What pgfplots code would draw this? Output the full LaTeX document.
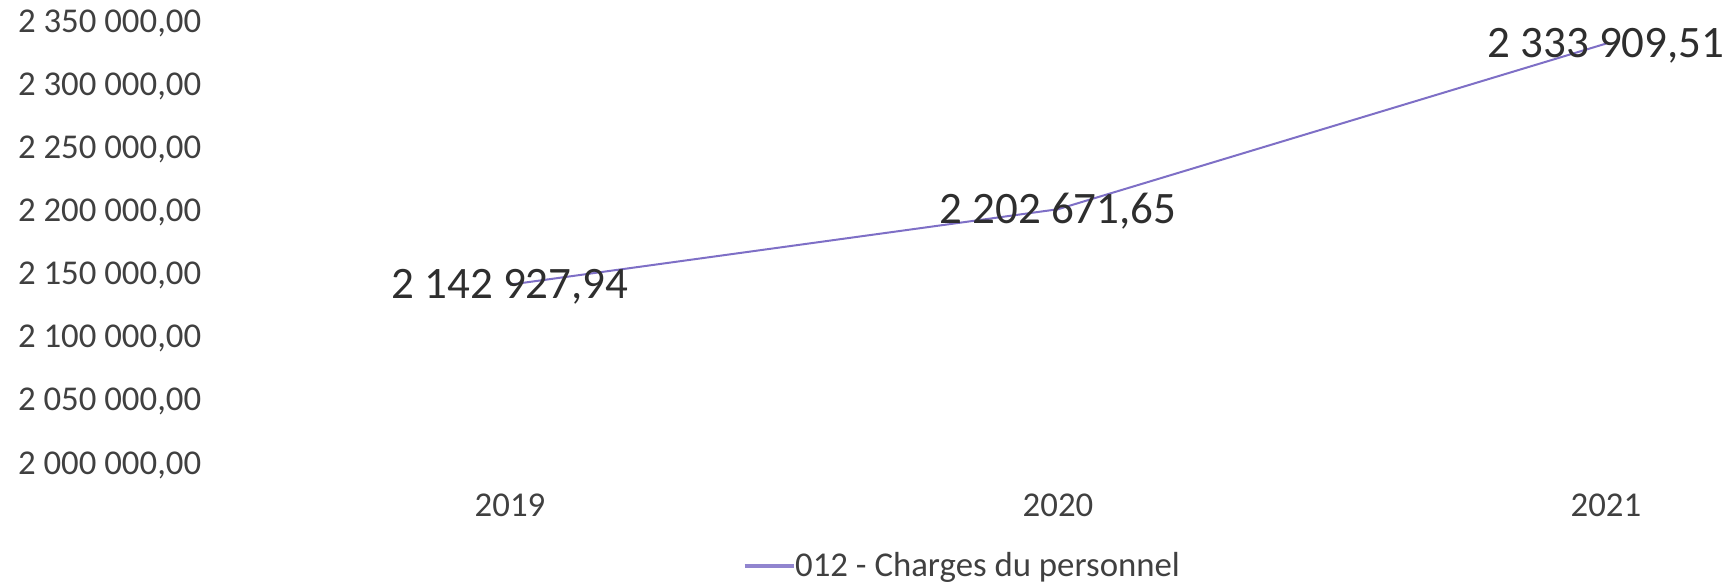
\documentclass[border=0pt]{standalone}
\usepackage{fontspec}
\setmainfont{Carlito}
\usepackage{pgfplots}
\pgfplotsset{compat=1.18}

\definecolor{seriescol}{HTML}{7E6FC6}
\definecolor{labelgray}{HTML}{404040}
\definecolor{valuegray}{HTML}{2E2E2E}

\begin{document}
\begin{tikzpicture}
\begin{axis}[
  at={(0,0)}, anchor=south west,
  scale only axis,
  width=748pt, height=220.85pt,
  xmin=-0.5, xmax=2.23,
  ymin=2000000, ymax=2350000,
  axis line style={draw=none},
  tick style={draw=none},
  major tick length=0pt,
  xtick={0,1,2},
  xticklabels={2019,2020,2021},
  ytick={2000000,2050000,2100000,2150000,2200000,2250000,2300000,2350000},
  yticklabels={{2 000 000,00},{2 050 000,00},{2 100 000,00},{2 150 000,00},
               {2 200 000,00},{2 250 000,00},{2 300 000,00},{2 350 000,00}},
  scaled y ticks=false,
  tick label style={font=\fontsize{17.4}{20}\selectfont, text=labelgray},
  yticklabel style={anchor=east, inner sep=0pt, xshift=-17.2pt},
  xticklabel style={anchor=base, inner sep=0pt, yshift=-25.85pt},
  clip=false,
  legend style={
    draw=none, fill=none, inner sep=0pt, outer sep=0pt,
    at={(0.3389,-0.2287)}, anchor=west,
    font=\fontsize{17.4}{20}\selectfont, text=labelgray,
    nodes={inner sep=0pt},
    /tikz/every even column/.append style={column sep=0pt},
  },
  legend cell align=left,
  legend image code/.code={\draw[#1] (0pt,0pt) -- (24.5pt,0pt);},
  every legend image post/.style={line width=1.6pt, color=seriescol!85!white},
]
\addplot[
  color=seriescol, line width=1pt, mark=none,
  point meta=explicit symbolic,
  nodes near coords,
  nodes near coords style={anchor=base, yshift=-7.1pt,
    font=\fontsize{22.5}{26}\selectfont, text=valuegray},
] coordinates {
  (0, 2142927.94) [2 142 927,94]
  (1, 2202671.65) [2 202 671,65]
  (2, 2333909.51) [2 333 909,51]
};
\addlegendentry{012 - Charges du personnel}
\end{axis}
\pgfresetboundingbox
\path (-118pt,-59.5pt) rectangle (748pt,232.5pt);
\end{tikzpicture}
\end{document}
